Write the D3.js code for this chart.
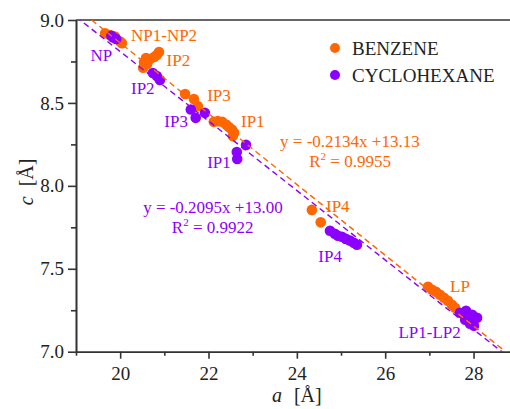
<!DOCTYPE html>
<meta charset="utf-8">
<style>
body { margin: 0; background: #fff; }
text { font-family: "Liberation Serif", "Times New Roman", serif; }
.axis path, .axis line { stroke: #333; stroke-width: 1.6px; }
.axis text { font-size: 19px; fill: #222; }
.fit { fill: none; stroke-width: 1.4px; stroke-dasharray: 6,4; }
.note { font-size: 17px; }
</style>
<body>
<script src="https://d3js.org/d3.v7.min.js"></script>
<script>

var orange = "#ff6600";
var purple = "#8c00ff";

// [a, c]
var benzene = [
    [19.66, 8.92], [19.77, 8.91], [19.88, 8.90], [20.00, 8.87], [20.04, 8.86],
    [20.52, 8.712], [20.54, 8.747], [20.585, 8.771], [20.61, 8.735], [20.675, 8.765], [20.77, 8.777], [20.83, 8.789], [20.88, 8.807],
    [21.47, 8.554], [21.67, 8.524], [21.76, 8.48],
    [22.12, 8.386], [22.21, 8.39], [22.31, 8.386], [22.40, 8.37], [22.46, 8.355], [22.53, 8.34], [22.58, 8.32], [22.55, 8.30],
    [24.34, 7.855], [24.54, 7.78],
    [26.97, 7.392], [27.06, 7.373], [27.15, 7.361], [27.24, 7.343], [27.33, 7.325], [27.42, 7.307], [27.51, 7.283], [27.58, 7.265]
];
var cyclohexane = [
    [19.80, 8.905], [19.84, 8.895], [19.91, 8.885],
    [20.74, 8.68], [20.83, 8.662], [20.90, 8.638],
    [21.60, 8.46], [21.71, 8.41], [21.92, 8.44],
    [22.64, 8.204], [22.65, 8.162], [22.85, 8.247],
    [24.75, 7.729], [24.86, 7.711], [24.93, 7.699], [25.02, 7.693], [25.11, 7.68], [25.20, 7.67], [25.29, 7.657], [25.36, 7.645],
    [27.69, 7.235], [27.83, 7.247], [27.97, 7.223], [28.08, 7.205], [27.81, 7.193], [27.92, 7.169], [28.01, 7.157]
];

// linear fits: [slope, intercept]
var fitBenzene = [-0.2134, 13.13];
var fitCyclohexane = [-0.2095, 13.00];

// phase labels: [text, a, c]
var labelsBenzene = [
    ["NP1-NP2", 20.245, 8.873], ["IP2", 21.05, 8.723], ["IP3", 21.97, 8.513],
    ["IP1", 22.735, 8.357], ["IP4", 24.66, 7.844], ["LP", 27.47, 7.358]
];
var labelsCyclohexane = [
    ["NP", 19.33, 8.753], ["IP2", 20.245, 8.552], ["IP3", 21.0, 8.357],
    ["IP1", 21.97, 8.106], ["IP4", 24.486, 7.543], ["LP1-LP2", 26.30, 7.081]
];

var xTicks = [20, 22, 24, 26, 28];
var yTicks = [7.0, 7.5, 8.0, 8.5, 9.0];

var margin = {top: 20, left: 76},
    width = 441.7,
    height = 331.7;

var x = d3.scaleLinear().domain([19, 29]).range([0, width]);
var y = d3.scaleLinear().domain([7, 9]).range([height, 0]);

var svg = d3.select("body").append("svg")
    .attr("width", 510)
    .attr("height", 409)
  .append("g")
    .attr("transform", "translate(" + margin.left + "," + margin.top + ")");

svg.append("defs").append("clipPath").attr("id", "plot")
  .append("rect").attr("width", width).attr("height", height);

// minor ticks
svg.append("g").attr("class", "axis")
    .attr("transform", "translate(0," + height + ")")
    .call(d3.axisBottom(x).tickValues(d3.range(19, 29.5, 2)).tickSize(4).tickSizeOuter(0).tickFormat(""));
svg.append("g").attr("class", "axis")
    .call(d3.axisLeft(y).tickValues([7.25, 7.75, 8.25, 8.75]).tickSize(5).tickSizeOuter(0).tickFormat(""));

// major ticks
svg.append("g").attr("class", "axis")
    .attr("transform", "translate(0," + height + ")")
    .call(d3.axisBottom(x).tickValues(xTicks).tickSize(7).tickSizeOuter(0).tickPadding(8));
svg.append("g").attr("class", "axis")
    .call(d3.axisLeft(y).tickValues(yTicks).tickSize(8).tickSizeOuter(0).tickPadding(4)
        .tickFormat(d3.format(".1f")));

// top frame
svg.append("line")
    .attr("x1", 0).attr("x2", x(29))
    .attr("y1", 0).attr("y2", 0)
    .style("stroke", "#333").style("stroke-width", "1.6px");

// points
function dots(data, color) {
    svg.append("g").selectAll("circle")
        .data(data)
        .enter().append("circle")
        .attr("cx", function(d) { return x(d[0]); })
        .attr("cy", function(d) { return y(d[1]); })
        .attr("r", 5.3)
        .style("fill", color);
}
dots(benzene, orange);
dots(cyclohexane, purple);

// fit lines
function fit(f, color) {
    svg.append("line")
        .attr("class", "fit")
        .attr("clip-path", "url(#plot)")
        .attr("x1", x(19)).attr("y1", y(f[0] * 19 + f[1]))
        .attr("x2", x(29)).attr("y2", y(f[0] * 29 + f[1]))
        .style("stroke", color);
}
fit(fitBenzene, orange);
fit(fitCyclohexane, purple);

// phase labels
function labels(data, color) {
    svg.append("g").selectAll("text")
        .data(data)
        .enter().append("text")
        .attr("class", "note")
        .attr("x", function(d) { return x(d[1]); })
        .attr("y", function(d) { return y(d[2]); })
        .style("fill", color)
        .text(function(d) { return d[0]; });
}
labels(labelsBenzene, orange);
labels(labelsCyclohexane, purple);

// equations
function equation(f, r2, ax, cy, ax2, color) {
    var g = svg.append("g").style("fill", color);
    g.append("text").attr("class", "note")
        .attr("x", x(ax)).attr("y", y(cy))
        .text("y = " + f[0].toFixed(4) + "x +" + f[1].toFixed(2));
    var t = g.append("text").attr("class", "note")
        .attr("x", x(ax2)).attr("y", y(cy) + 20);
    t.append("tspan").text("R");
    t.append("tspan").attr("dy", -7).style("font-size", "11px").text("2");
    t.append("tspan").attr("dy", 7).text(" = " + r2);
}
equation(fitBenzene, "0.9955", 23.62, 8.236, 24.28, orange);
equation(fitCyclohexane, "0.9922", 20.52, 7.836, 21.17, purple);

// legend
var legend = [["BENZENE", orange], ["CYCLOHEXANE", purple]];
var lg = svg.append("g").attr("transform", "translate(259,28)");
legend.forEach(function(d, i) {
    lg.append("circle").attr("cx", 0).attr("cy", i * 27).attr("r", 5).style("fill", d[1]);
    lg.append("text").attr("x", 17).attr("y", i * 27 + 6.5)
        .style("font-size", "19px").style("fill", "#222").text(d[0]);
});

// axis titles
var xt = svg.append("text")
    .attr("x", width / 2).attr("y", height + 50)
    .attr("text-anchor", "middle").style("font-size", "20px").style("fill", "#222");
xt.append("tspan").style("font-style", "italic").text("a");
xt.append("tspan").attr("dx", 12).text("[Å]");

var yt = svg.append("text")
    .attr("transform", "translate(-43," + (height / 2 - 4) + ") rotate(-90)")
    .attr("text-anchor", "middle").style("font-size", "20px").style("fill", "#222");
yt.append("tspan").style("font-style", "italic").text("c");
yt.append("tspan").attr("dx", 10).text("[Å]");

</script>
</body>
